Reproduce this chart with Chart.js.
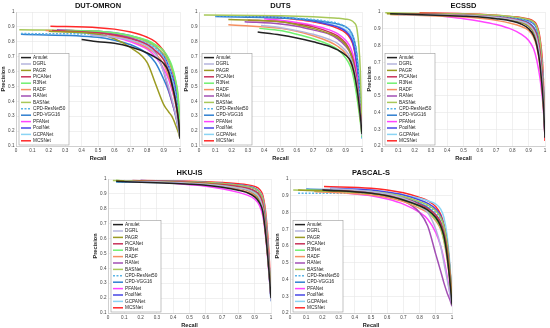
<!DOCTYPE html>
<html>
<head>
<meta charset="utf-8">
<script src="https://cdn.jsdelivr.net/npm/chart.js@4.4.0/dist/chart.umd.min.js"></script>
<style>
body { margin: 0; background: #fff; width: 550px; height: 328px; position: relative; overflow: hidden; }
canvas { position: absolute; }
</style>
</head>
<body>
<canvas id="omron"></canvas>
<canvas id="duts"></canvas>
<canvas id="ecssd"></canvas>
<canvas id="hkuis"></canvas>
<canvas id="pascal"></canvas>
<script>
// Methods and colours (legend order)
const methods = ["Amulet", "DGRL", "PAGR", "PiCANet", "R3Net", "RADF", "RANet", "BASNet",
	"CPD-ResNet50", "CPD-VGG16", "PFANet", "PoolNet", "GCPANet", "MCSNet"];
const colors = ["#222222", "#b4b4dc", "#9b9b22", "#c8325a", "#70f070", "#f59060", "#a24fb4", "#a8c85a",
	"#5ab4e6", "#2f7fd0", "#ff44ff", "#4646e6", "#8ad4f4", "#ff2828"];

const recallGrid = [0.5, 0.6, 0.7, 0.8, 0.85, 0.9, 0.93, 0.95, 0.97, 0.99, 1];

// first point of each curve [recall, precision], then precision at recallGrid
const omronStart = [[0.40, 0.815], [0.45, 0.845], [0.20, 0.87], [0.22, 0.875], [0.30, 0.875], [0.18, 0.875], [0.25, 0.88],
	[0.02, 0.88], [0.03, 0.855], [0.03, 0.85], [0.45, 0.85], [0.30, 0.875], [0.35, 0.86], [0.21, 0.905]];
const omronPrec = [
	[0.80, 0.79, 0.765, 0.725, 0.695, 0.655, 0.6, 0.52, 0.42, 0.28, 0.15],
	[0.84, 0.83, 0.81, 0.77, 0.72, 0.6, 0.5, 0.42, 0.33, 0.22, 0.15],
	[0.85, 0.82, 0.76, 0.66, 0.52, 0.38, 0.33, 0.3, 0.25, 0.19, 0.15],
	[0.86, 0.845, 0.82, 0.78, 0.74, 0.68, 0.6, 0.52, 0.42, 0.28, 0.16],
	[0.87, 0.86, 0.84, 0.81, 0.78, 0.74, 0.69, 0.64, 0.56, 0.4, 0.2],
	[0.86, 0.84, 0.81, 0.76, 0.72, 0.65, 0.57, 0.5, 0.4, 0.27, 0.16],
	[0.865, 0.85, 0.825, 0.78, 0.73, 0.6, 0.48, 0.4, 0.32, 0.22, 0.15],
	[0.87, 0.855, 0.835, 0.8, 0.77, 0.72, 0.67, 0.62, 0.55, 0.42, 0.2],
	[0.85, 0.84, 0.82, 0.79, 0.76, 0.7, 0.64, 0.57, 0.47, 0.32, 0.17],
	[0.83, 0.81, 0.78, 0.72, 0.66, 0.55, 0.47, 0.4, 0.32, 0.22, 0.15],
	[0.845, 0.83, 0.8, 0.75, 0.7, 0.62, 0.55, 0.48, 0.4, 0.28, 0.16],
	[0.87, 0.86, 0.84, 0.805, 0.77, 0.71, 0.64, 0.58, 0.5, 0.35, 0.18],
	[0.855, 0.845, 0.825, 0.79, 0.755, 0.69, 0.62, 0.55, 0.45, 0.3, 0.17],
	[0.895, 0.885, 0.865, 0.83, 0.8, 0.74, 0.68, 0.62, 0.53, 0.38, 0.15]
];

const dutsStart = [[0.36, 0.865], [0.38, 0.91], [0.18, 0.95], [0.30, 0.945], [0.37, 0.89], [0.18, 0.915], [0.28, 0.935],
	[0.03, 0.98], [0.10, 0.975], [0.10, 0.97], [0.40, 0.955], [0.27, 0.975], [0.10, 0.975], [0.27, 0.97]];
const dutsPrec = [
	[0.845, 0.825, 0.8, 0.77, 0.745, 0.71, 0.67, 0.6, 0.48, 0.3, 0.18],
	[0.895, 0.875, 0.85, 0.815, 0.79, 0.74, 0.69, 0.62, 0.5, 0.3, 0.17],
	[0.935, 0.915, 0.89, 0.855, 0.83, 0.78, 0.72, 0.63, 0.48, 0.28, 0.18],
	[0.935, 0.92, 0.9, 0.865, 0.84, 0.79, 0.73, 0.66, 0.52, 0.32, 0.2],
	[0.875, 0.85, 0.82, 0.78, 0.75, 0.69, 0.63, 0.55, 0.42, 0.26, 0.16],
	[0.89, 0.87, 0.84, 0.8, 0.77, 0.72, 0.66, 0.58, 0.45, 0.28, 0.17],
	[0.92, 0.905, 0.88, 0.85, 0.82, 0.77, 0.72, 0.65, 0.52, 0.32, 0.19],
	[0.975, 0.972, 0.968, 0.962, 0.958, 0.952, 0.945, 0.93, 0.88, 0.6, 0.2],
	[0.965, 0.958, 0.95, 0.935, 0.925, 0.9, 0.87, 0.82, 0.7, 0.4, 0.15],
	[0.96, 0.955, 0.945, 0.93, 0.92, 0.9, 0.87, 0.82, 0.7, 0.4, 0.16],
	[0.945, 0.93, 0.91, 0.88, 0.855, 0.81, 0.76, 0.69, 0.56, 0.34, 0.2],
	[0.965, 0.955, 0.94, 0.915, 0.9, 0.87, 0.83, 0.77, 0.63, 0.38, 0.18],
	[0.965, 0.955, 0.94, 0.92, 0.905, 0.88, 0.85, 0.79, 0.66, 0.4, 0.15],
	[0.96, 0.95, 0.935, 0.91, 0.89, 0.86, 0.82, 0.76, 0.62, 0.38, 0.24]
];

const ecssdStart = [[0.05, 0.99], [0.10, 0.985], [0.03, 0.99], [0.10, 0.99], [0.05, 0.99], [0.05, 0.985], [0.10, 0.99],
	[0.02, 0.995], [0.13, 0.985], [0.10, 0.99], [0.37, 0.975], [0.20, 0.99], [0.15, 0.99], [0.23, 0.995]];
const ecssdPrec = [
	[0.975, 0.97, 0.96, 0.945, 0.93, 0.9, 0.86, 0.8, 0.68, 0.45, 0.25],
	[0.98, 0.975, 0.968, 0.955, 0.945, 0.925, 0.89, 0.84, 0.72, 0.48, 0.26],
	[0.98, 0.975, 0.965, 0.95, 0.94, 0.915, 0.88, 0.82, 0.7, 0.45, 0.3],
	[0.982, 0.977, 0.97, 0.958, 0.948, 0.93, 0.9, 0.86, 0.76, 0.52, 0.25],
	[0.98, 0.975, 0.967, 0.955, 0.945, 0.925, 0.89, 0.85, 0.74, 0.5, 0.3],
	[0.97, 0.962, 0.95, 0.93, 0.915, 0.89, 0.85, 0.79, 0.67, 0.44, 0.25],
	[0.98, 0.975, 0.966, 0.952, 0.94, 0.915, 0.88, 0.83, 0.72, 0.48, 0.26],
	[0.988, 0.985, 0.98, 0.972, 0.965, 0.955, 0.94, 0.91, 0.82, 0.55, 0.35],
	[0.983, 0.98, 0.975, 0.967, 0.96, 0.948, 0.93, 0.9, 0.8, 0.55, 0.25],
	[0.982, 0.977, 0.97, 0.96, 0.952, 0.935, 0.91, 0.87, 0.77, 0.52, 0.25],
	[0.96, 0.945, 0.925, 0.895, 0.87, 0.83, 0.78, 0.71, 0.6, 0.42, 0.25],
	[0.985, 0.98, 0.975, 0.967, 0.96, 0.948, 0.93, 0.9, 0.8, 0.55, 0.25],
	[0.985, 0.98, 0.975, 0.967, 0.96, 0.95, 0.935, 0.905, 0.81, 0.56, 0.25],
	[0.99, 0.986, 0.98, 0.972, 0.967, 0.958, 0.945, 0.92, 0.84, 0.6, 0.23]
];

const hkuStart = [[0.05, 0.985], [0.10, 0.985], [0.05, 0.99], [0.15, 0.99], [0.05, 0.99], [0.18, 0.985], [0.10, 0.985],
	[0.03, 0.99], [0.05, 0.98], [0.05, 0.98], [0.35, 0.975], [0.20, 0.99], [0.15, 0.985], [0.20, 0.99]];
const hkuPrec = [
	[0.965, 0.958, 0.945, 0.925, 0.91, 0.88, 0.84, 0.78, 0.6, 0.35, 0.2],
	[0.972, 0.965, 0.955, 0.94, 0.93, 0.905, 0.87, 0.8, 0.62, 0.35, 0.18],
	[0.975, 0.968, 0.957, 0.94, 0.928, 0.9, 0.86, 0.79, 0.6, 0.35, 0.22],
	[0.978, 0.972, 0.963, 0.95, 0.94, 0.92, 0.89, 0.83, 0.66, 0.38, 0.2],
	[0.975, 0.968, 0.958, 0.943, 0.932, 0.91, 0.88, 0.82, 0.65, 0.38, 0.25],
	[0.97, 0.962, 0.95, 0.93, 0.915, 0.89, 0.85, 0.78, 0.6, 0.35, 0.2],
	[0.972, 0.965, 0.955, 0.94, 0.928, 0.905, 0.87, 0.8, 0.62, 0.35, 0.2],
	[0.982, 0.977, 0.97, 0.958, 0.95, 0.935, 0.91, 0.86, 0.7, 0.4, 0.25],
	[0.978, 0.974, 0.967, 0.955, 0.947, 0.93, 0.9, 0.84, 0.66, 0.36, 0.18],
	[0.975, 0.97, 0.962, 0.948, 0.938, 0.915, 0.88, 0.81, 0.62, 0.34, 0.18],
	[0.962, 0.952, 0.935, 0.91, 0.893, 0.865, 0.82, 0.75, 0.58, 0.33, 0.2],
	[0.982, 0.977, 0.97, 0.96, 0.952, 0.937, 0.91, 0.86, 0.7, 0.4, 0.2],
	[0.98, 0.976, 0.97, 0.96, 0.953, 0.94, 0.915, 0.87, 0.72, 0.4, 0.18],
	[0.985, 0.982, 0.977, 0.968, 0.962, 0.95, 0.93, 0.89, 0.75, 0.45, 0.18]
];

const pascalStart = [[0.20, 0.935], [0.25, 0.945], [0.05, 0.935], [0.20, 0.935], [0.10, 0.935], [0.15, 0.925], [0.40, 0.92],
	[0.02, 0.935], [0.05, 0.915], [0.10, 0.94], [0.35, 0.915], [0.25, 0.945], [0.15, 0.93], [0.21, 0.955]];
const pascalPrec = [
	[0.915, 0.9, 0.875, 0.84, 0.815, 0.77, 0.72, 0.66, 0.54, 0.36, 0.25],
	[0.925, 0.91, 0.885, 0.84, 0.8, 0.7, 0.6, 0.5, 0.4, 0.3, 0.25],
	[0.915, 0.9, 0.875, 0.84, 0.815, 0.77, 0.72, 0.66, 0.56, 0.38, 0.26],
	[0.92, 0.905, 0.885, 0.85, 0.825, 0.785, 0.74, 0.68, 0.58, 0.4, 0.26],
	[0.915, 0.9, 0.875, 0.835, 0.81, 0.76, 0.71, 0.64, 0.54, 0.37, 0.27],
	[0.905, 0.89, 0.865, 0.825, 0.8, 0.75, 0.7, 0.63, 0.52, 0.36, 0.25],
	[0.915, 0.895, 0.87, 0.8, 0.72, 0.55, 0.45, 0.38, 0.32, 0.27, 0.24],
	[0.925, 0.913, 0.895, 0.865, 0.845, 0.81, 0.77, 0.72, 0.62, 0.43, 0.3],
	[0.915, 0.905, 0.89, 0.86, 0.84, 0.8, 0.76, 0.7, 0.6, 0.42, 0.26],
	[0.925, 0.91, 0.89, 0.855, 0.83, 0.785, 0.74, 0.67, 0.56, 0.38, 0.25],
	[0.9, 0.88, 0.85, 0.8, 0.76, 0.68, 0.6, 0.52, 0.42, 0.3, 0.25],
	[0.935, 0.922, 0.905, 0.875, 0.855, 0.82, 0.78, 0.72, 0.62, 0.42, 0.26],
	[0.925, 0.918, 0.905, 0.885, 0.87, 0.85, 0.82, 0.77, 0.66, 0.45, 0.25],
	[0.945, 0.935, 0.918, 0.89, 0.87, 0.835, 0.79, 0.73, 0.63, 0.43, 0.27]
];

const FONT = "'Liberation Sans', Arial, sans-serif";

function buildDatasets(start, prec) {
	return methods.map((name, i) => {
		const pts = [{ x: start[i][0], y: start[i][1] }];
		recallGrid.forEach((r, j) => {
			if (r > start[i][0]) pts.push({ x: r, y: prec[i][j] });
		});
		return {
			label: name,
			data: pts,
			borderColor: colors[i],
			backgroundColor: colors[i],
			borderWidth: 1.5,
			borderDash: name == "CPD-ResNet50" ? [2, 1.5] : [],
			pointRadius: 0,
			showLine: true,
			cubicInterpolationMode: "monotone",
		};
	});
}

// legend box in the lower left corner of the plot
const boxLegend = {
	id: "boxLegend",
	afterDatasetsDraw(chart) {
		const ctx = chart.ctx;
		const a = chart.chartArea;
		const rowH = 6.4;
		const w = 50;
		const h = rowH * methods.length + 2;
		const x = a.left + 3;
		const y = a.bottom - 1 - h;
		ctx.save();
		ctx.fillStyle = "#ffffff";
		ctx.fillRect(x, y, w, h);
		ctx.strokeStyle = "#9a9a9a";
		ctx.lineWidth = 0.6;
		ctx.strokeRect(x, y, w, h);
		ctx.font = "4.7px " + FONT;
		ctx.textBaseline = "middle";
		chart.data.datasets.forEach((ds, i) => {
			const cy = y + 1 + rowH * (i + 0.5);
			ctx.strokeStyle = ds.borderColor;
			ctx.lineWidth = 1.5;
			ctx.setLineDash(ds.borderDash);
			ctx.beginPath();
			ctx.moveTo(x + 2, cy);
			ctx.lineTo(x + 12, cy);
			ctx.stroke();
			ctx.setLineDash([]);
			ctx.fillStyle = "#222222";
			ctx.fillText(ds.label, x + 14, cy);
		});
		ctx.restore();
	},
};

function makePanel(id, title, start, prec, yMin, plotLeft, plotTop, plotW, plotH) {
	const canvas = document.getElementById(id);
	canvas.width = plotW + 19;
	canvas.height = plotH + 28;
	canvas.style.left = plotLeft - 16 + "px";
	canvas.style.top = plotTop - 12 + "px";
	const tickFont = { size: 4.6, family: FONT };
	const titleFont = { size: 5.6, weight: "bold", family: FONT };
	return new Chart(canvas.getContext("2d"), {
		type: "scatter",
		data: { datasets: buildDatasets(start, prec) },
		options: {
			responsive: false,
			animation: false,
			devicePixelRatio: 1,
			layout: { padding: { left: 0, right: 3, top: 0, bottom: 0 } },
			plugins: {
				legend: { display: false },
				tooltip: { enabled: false },
				title: {
					display: true,
					fullSize: false,
					text: title,
					color: "#111111",
					font: { size: 7.5, weight: "bold", family: FONT },
					padding: { top: 1.5, bottom: 1.5 },
				},
			},
			scales: {
				x: {
					type: "linear",
					min: 0,
					max: 1,
					ticks: {
						stepSize: 0.1,
						autoSkip: false,
						maxRotation: 0,
						padding: 1.5,
						color: "#444444",
						font: tickFont,
						callback: (v) => String(Math.round(v * 10) / 10),
					},
					grid: { color: "#e6e6e6", lineWidth: 0.6, drawTicks: false },
					border: { color: "#b8b8b8", width: 0.6 },
					title: { display: true, text: "Recall", color: "#222222", font: titleFont, padding: 0 },
					afterFit: (s) => {
						s.height = 16;
					},
				},
				y: {
					type: "linear",
					min: yMin,
					max: 1,
					ticks: {
						stepSize: 0.1,
						autoSkip: false,
						padding: 1.5,
						color: "#444444",
						font: tickFont,
						callback: (v) => String(Math.round(v * 10) / 10),
					},
					grid: { color: "#e6e6e6", lineWidth: 0.6, drawTicks: false },
					border: { color: "#b8b8b8", width: 0.6 },
					title: { display: true, text: "Precision", color: "#222222", font: titleFont, padding: 0 },
					afterFit: (s) => {
						s.width = 16;
					},
				},
			},
		},
		plugins: [boxLegend],
	});
}

makePanel("omron", "DUT-OMRON", omronStart, omronPrec, 0.1, 16, 12, 164, 134);
makePanel("duts", "DUTS", dutsStart, dutsPrec, 0.1, 199, 12, 163, 134);
makePanel("ecssd", "ECSSD", ecssdStart, ecssdPrec, 0.2, 382, 12, 163, 134);
makePanel("hkuis", "HKU-IS", hkuStart, hkuPrec, 0.1, 108, 179, 163, 134);
makePanel("pascal", "PASCAL-S", pascalStart, pascalPrec, 0.2, 290, 179, 162, 134);
</script>
</body>
</html>
